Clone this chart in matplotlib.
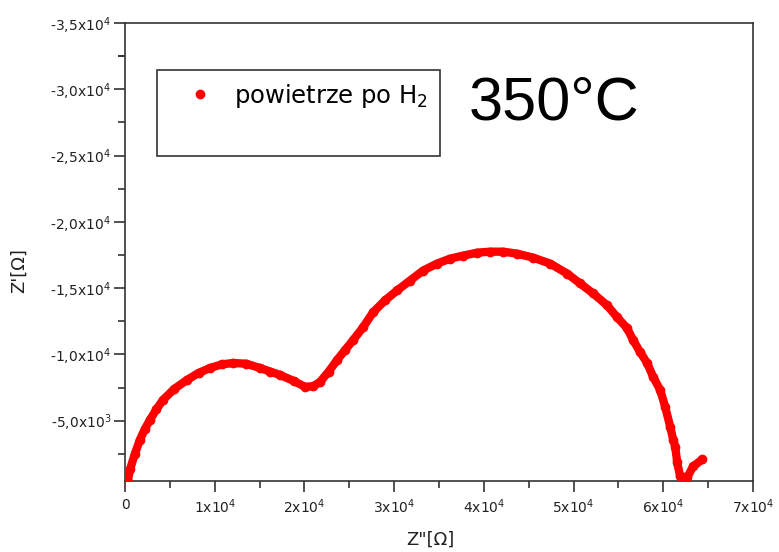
import matplotlib
matplotlib.use("Agg")
import matplotlib.pyplot as plt
from matplotlib.patches import Rectangle
from matplotlib.lines import Line2D

z_re = [300, 560, 1100, 1670, 2200, 2790, 3500, 4240, 5500, 6910, 8200, 9480, 10800,
        12040, 13500, 15050, 16200, 17280, 18800, 20070, 21000, 21740, 22700, 23640,
        24500, 25420, 26540, 27650, 28990, 30330, 31780, 33230, 34790, 36240, 37690,
        39250, 40700, 42150, 43710, 45490, 47390, 49280, 50730, 52180, 53740, 54860,
        55970, 56640, 57420, 58200, 58870, 59650, 60210, 60770, 61100, 61330, 61550,
        61880, 62660, 63330, 64340]
z_im = [-400, -1325, -2500, -3575, -4350, -5075, -5850, -6575, -7400, -8075, -8600,
        -8975, -9250, -9350, -9300, -8975, -8700, -8450, -8000, -7550, -7600, -7925,
        -8700, -9575, -10300, -11075, -12050, -13175, -14075, -14825, -15575, -16325,
        -16850, -17225, -17450, -17675, -17750, -17750, -17600, -17300, -16850, -16100,
        -15350, -14600, -13700, -12800, -11975, -11075, -10175, -9350, -8300, -7325,
        -6050, -4550, -3575, -3050, -1850, -800, -725, -1550, -2075]

x_ticks = [0, 10000, 20000, 30000, 40000, 50000, 60000, 70000]
x_labels = ["0", "1x10$^{4}$", "2x10$^{4}$", "3x10$^{4}$", "4x10$^{4}$",
            "5x10$^{4}$", "6x10$^{4}$", "7x10$^{4}$"]
y_ticks = [-35000, -30000, -25000, -20000, -15000, -10000, -5000]
y_labels = ["-3,5x10$^{4}$", "-3,0x10$^{4}$", "-2,5x10$^{4}$", "-2,0x10$^{4}$",
            "-1,5x10$^{4}$", "-1,0x10$^{4}$", "-5,0x10$^{3}$"]

series_label = "powietrze po H$_2$"
temp_label = "350°C"

plt.rcParams['mathtext.default'] = 'regular'
plt.rcParams['font.family'] = ['DejaVu Sans']

fig = plt.figure(figsize=(7.79, 5.52), dpi=100)
ax = fig.add_axes([125/779, 1-481/552, 628/779, 458/552])

red = '#ff0000'
ax.plot(z_re, z_im, color=red, lw=6, marker='o', ms=6, mec=red, mfc=red,
        solid_capstyle='round', solid_joinstyle='round', zorder=3)

ax.set_xlim(0, 70000)
ax.set_ylim(-450, -35000)

ax.set_xticks(x_ticks)
ax.set_xticklabels(x_labels)
ax.set_yticks(y_ticks)
ax.set_yticklabels(y_labels)
ax.set_xticks([t + 5000 for t in x_ticks[:-1]], minor=True)
ax.set_yticks([-2500] + [t + 2500 for t in y_ticks[:-1]] + [-32500], minor=True)

tc = '#333333'
for s in ax.spines.values():
    s.set_color(tc)
    s.set_linewidth(1.2)
ax.tick_params(axis='both', which='major', direction='out', length=8, width=1.2,
               color=tc, labelcolor='#222222', labelsize=10)
ax.tick_params(axis='both', which='minor', direction='out', length=5, width=1.2, color=tc)
ax.tick_params(axis='y', which='both', pad=2)
ax.tick_params(axis='x', which='both', pad=4)

ax.set_xlabel('Z"[Ω]', fontsize=13, color='#222222')
ax.set_ylabel("Z'[Ω]", fontsize=13, color='#222222')
ax.xaxis.set_label_coords(0.486, -0.108)
ax.yaxis.set_label_coords(-0.155, 0.46)

# legend box
ax.add_patch(Rectangle((32/628, (481-156)/458), (440-157)/628, (156-70)/458,
                       transform=ax.transAxes, fill=False, edgecolor=tc, lw=1.2, zorder=5))
handle = Line2D([], [], marker='o', ls='none', color=red, ms=6)
ax.legend([handle], [series_label], loc='center left',
          bbox_to_anchor=((190-125)/628, (481-96)/458), frameon=False,
          fontsize=17.5, handlelength=0.8, handletextpad=1.0, borderpad=0, borderaxespad=0)

ax.text((554-125)/628, (481-104)/458, temp_label, transform=ax.transAxes,
        ha='center', va='center', fontsize=44, family=['Liberation Sans', 'DejaVu Sans'],
        color='black')

fig.savefig('out.png', dpi=100)
